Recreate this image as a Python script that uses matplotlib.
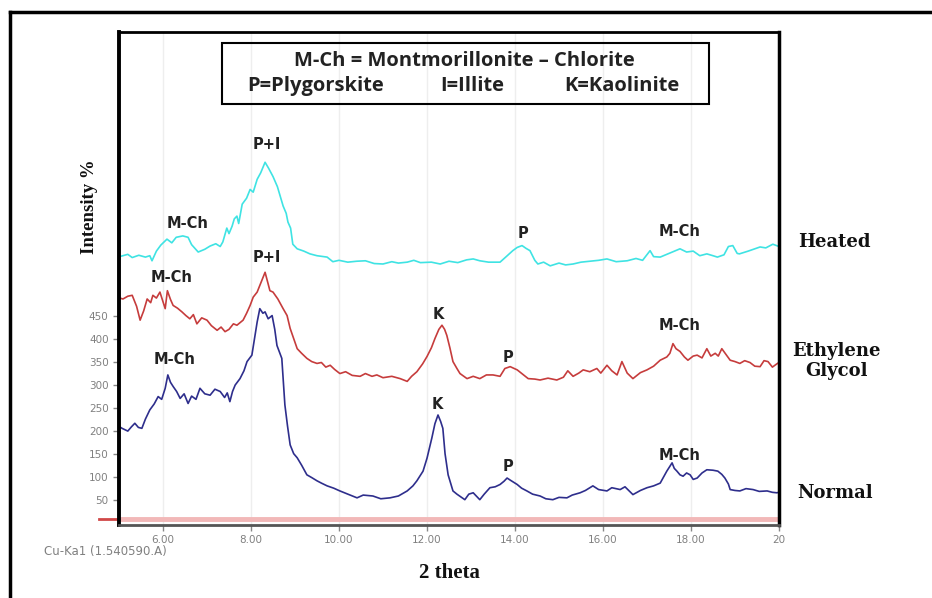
import matplotlib
matplotlib.use("Agg")
import matplotlib.pyplot as plt
from matplotlib.patches import Rectangle
from matplotlib.lines import Line2D

# ---- data (2 theta, intensity as plotted, curves stacked) ----
heated_x = [5.05, 5.2, 5.3, 5.45, 5.6, 5.7, 5.75, 5.85, 5.95, 6.09, 6.2, 6.3, 6.45, 6.57, 6.65, 6.8,
            6.95, 7.07, 7.2, 7.3, 7.36, 7.45, 7.5, 7.57, 7.62, 7.68, 7.72, 7.8, 7.9, 7.98, 8.05, 8.14,
            8.22, 8.32, 8.4, 8.5, 8.6, 8.73, 8.8, 8.84, 8.9, 8.95, 9.05, 9.2, 9.34, 9.5, 9.73, 9.86,
            10.0, 10.2, 10.4, 10.6, 10.8, 11.0, 11.2, 11.35, 11.55, 11.7, 11.85, 12.1, 12.3, 12.5,
            12.7, 12.9, 13.05, 13.2, 13.4, 13.66, 13.8, 13.95, 14.05, 14.16, 14.25, 14.34, 14.45,
            14.52, 14.65, 14.8, 15.0, 15.15, 15.32, 15.5, 15.7, 15.9, 16.09, 16.3, 16.55, 16.75, 16.9,
            17.07, 17.15, 17.3, 17.5, 17.75, 17.9, 18.05, 18.2, 18.36, 18.5, 18.6, 18.75, 18.85,
            18.95, 19.05, 19.1, 19.3, 19.45, 19.57, 19.7, 19.86, 20.0]
heated_y = [579, 583, 576, 581, 577, 580, 569, 590, 603, 616, 608, 620, 623, 620, 604, 588,
            594, 601, 606, 600, 610, 640, 628, 644, 660, 666, 650, 692, 705, 724, 718, 746,
            760, 783, 770, 752, 730, 688, 672, 653, 640, 605, 595, 590, 584, 580, 577, 567,
            570, 566, 568, 569, 563, 562, 567, 564, 566, 570, 565, 566, 562, 568,
            565, 571, 573, 569, 566, 566, 578, 591, 598, 602, 596, 591, 570,
            562, 566, 558, 564, 560, 562, 566, 568, 570, 573, 567, 569, 574, 570,
            591, 578, 577, 585, 595, 588, 590, 580, 584, 580, 577, 582, 600,
            602, 585, 584, 590, 595, 599, 597, 605, 600]

glycol_x = [5.02, 5.09, 5.2, 5.3, 5.4, 5.48, 5.56, 5.64, 5.72, 5.77, 5.85, 5.93, 6.0, 6.05, 6.1,
            6.17, 6.23, 6.33, 6.43, 6.52, 6.61, 6.69, 6.77, 6.88, 7.0, 7.1, 7.23, 7.32, 7.41, 7.5,
            7.6, 7.68, 7.82, 7.9, 7.98, 8.05, 8.14, 8.22, 8.32, 8.38, 8.43, 8.5, 8.61, 8.73, 8.82,
            8.89, 8.97, 9.05, 9.15, 9.27, 9.38, 9.5, 9.6, 9.7, 9.8, 9.9, 10.02, 10.15, 10.3, 10.48,
            10.6, 10.75, 10.86, 11.0, 11.2, 11.39, 11.55, 11.65, 11.77, 11.9, 12.0, 12.1, 12.18,
            12.27, 12.34, 12.4, 12.45, 12.52, 12.59, 12.68, 12.75, 12.91, 13.05, 13.2, 13.35, 13.5,
            13.66, 13.77, 13.89, 14.05, 14.18, 14.3, 14.45, 14.57, 14.75, 14.95, 15.1, 15.2, 15.32,
            15.45, 15.55, 15.7, 15.86, 15.95, 16.09, 16.2, 16.32, 16.43, 16.55, 16.68, 16.85, 17.0,
            17.15, 17.3, 17.45, 17.52, 17.59, 17.66, 17.75, 17.85, 17.93, 18.05, 18.14, 18.25,
            18.36, 18.45, 18.55, 18.62, 18.7, 18.8, 18.89, 19.0, 19.11, 19.22, 19.34, 19.45, 19.57,
            19.66, 19.75, 19.85, 19.95, 20.0]
glycol_y = [488, 486, 492, 494, 470, 440, 460, 486, 478, 494, 488, 501, 480, 465, 504,
            485, 472, 466, 458, 450, 443, 452, 432, 445, 440, 428, 418, 425, 415, 420,
            432, 429, 440, 455, 472, 490, 501, 520, 544, 522, 504, 501, 486, 465, 450,
            422, 400, 378, 368, 357, 350, 346, 348, 338, 342, 333, 324, 328, 320, 318,
            324, 318, 321, 315, 318, 313, 307, 318, 328, 345, 361, 380, 400,
            420, 429, 420, 407, 380, 350, 335, 324, 313, 318, 313, 321, 321,
            318, 335, 339, 332, 322, 313, 312, 310, 314, 310, 316, 330, 318,
            325, 332, 328, 335, 325, 342, 330, 321, 350, 325, 313, 326, 332,
            340, 353, 360, 368, 389, 378, 372, 360, 353, 362, 364, 358,
            378, 362, 368, 362, 378, 365, 353, 350, 346, 352, 348, 340, 339,
            352, 350, 338, 345, 348]

normal_x = [5.02, 5.07, 5.2, 5.28, 5.36, 5.44, 5.52, 5.6, 5.7, 5.8, 5.89, 5.97, 6.05, 6.11, 6.17,
            6.23, 6.31, 6.39, 6.48, 6.57, 6.65, 6.75, 6.84, 6.95, 7.07, 7.18, 7.3, 7.4, 7.46, 7.52,
            7.58, 7.64, 7.75, 7.84, 7.91, 8.02, 8.08, 8.14, 8.2, 8.27, 8.32, 8.39, 8.48, 8.54, 8.59,
            8.7, 8.77, 8.83, 8.89, 8.97, 9.05, 9.15, 9.27, 9.38, 9.5, 9.6, 9.73, 9.88, 10.02, 10.2,
            10.41, 10.55, 10.77, 10.95, 11.16, 11.35, 11.55, 11.68, 11.77, 11.91, 12.0, 12.11, 12.18,
            12.25, 12.31, 12.36, 12.41, 12.48, 12.59, 12.68, 12.86, 12.95, 13.05, 13.12, 13.2, 13.3,
            13.43, 13.55, 13.66, 13.75, 13.82, 13.9, 14.05, 14.15, 14.27, 14.4, 14.57, 14.7, 14.86,
            15.0, 15.18, 15.3, 15.48, 15.6, 15.77, 15.9, 16.09, 16.2, 16.39, 16.5, 16.68, 16.85,
            17.0, 17.15, 17.3, 17.38, 17.45, 17.57, 17.62, 17.68, 17.75, 17.82, 17.9, 17.98, 18.05,
            18.14, 18.25, 18.36, 18.5, 18.61, 18.7, 18.77, 18.85, 18.89, 19.0, 19.11, 19.25, 19.41,
            19.55, 19.73, 19.85, 19.95, 20.0]
normal_y = [208, 205, 199, 208, 216, 207, 205, 225, 245, 258, 274, 268, 292, 321, 305,
            296, 285, 270, 280, 259, 275, 268, 292, 280, 277, 290, 285, 272, 282, 263,
            285, 299, 313, 330, 350, 364, 400, 436, 465, 455, 458, 443, 450, 420, 385,
            357, 256, 210, 169, 150, 141, 125, 104, 98, 91, 86, 80, 75, 69, 62,
            54, 60, 58, 52, 54, 58, 69, 80, 91, 112, 140, 184, 215,
            234, 220, 205, 150, 104, 69, 62, 50, 62, 65, 58, 50, 62,
            76, 78, 83, 90, 97, 92, 83, 75, 69, 62, 58, 52, 50,
            55, 54, 60, 65, 70, 80, 72, 69, 76, 72, 78, 61, 70,
            76, 80, 86, 100, 112, 130, 118, 112, 104, 101, 108, 104, 94,
            97, 108, 115, 114, 112, 105, 97, 84, 72, 70, 69, 74, 72,
            68, 69, 66, 65, 66]

x_ticks = [6, 8, 10, 12, 14, 16, 18, 20]
x_tick_labels = ['6.00', '8.00', '10.00', '12.00', '14.00', '16.00', '18.00', '20']
y_ticks = [50, 100, 150, 200, 250, 300, 350, 400, 450]

# peak labels: (text, 2theta, height)
peak_labels = [
    ('M-Ch', 6.55, 650), ('P+I', 8.36, 822), ('P', 14.18, 628), ('M-Ch', 17.75, 632),
    ('M-Ch', 6.2, 532), ('P+I', 8.36, 576), ('K', 12.25, 452), ('P', 13.84, 359), ('M-Ch', 17.75, 428),
    ('M-Ch', 6.27, 355), ('K', 12.23, 257), ('P', 13.84, 123), ('M-Ch', 17.75, 145),
]

W, H = 932, 598
fig = plt.figure(figsize=(W / 100, H / 100), dpi=100)


def fx(px):
    return px / W


def fy(py):
    return 1 - py / H


ax = fig.add_axes([fx(119), fy(525), fx(779) - fx(119), fy(32) - fy(525)])
ax.set_xlim(5, 20)
ax.set_ylim(-5, 1066)

ax.grid(axis='x', color='#eeeeee', lw=1)
ax.set_axisbelow(True)

# pink reference band along the bottom
ax.axhline(9, color='#f2b8b8', lw=3.5, zorder=1)
ax.plot([-0.03, 0], [9, 9], color='#d04848', lw=2, clip_on=False,
        transform=ax.get_yaxis_transform())

ax.plot(heated_x, heated_y, color='#3fe3e3', lw=1.2)
ax.plot(glycol_x, glycol_y, color='#c63c3c', lw=1.2)
ax.plot(normal_x, normal_y, color='#2e2e8c', lw=1.2)

for txt, x, y in peak_labels:
    ax.text(x, y, txt, ha='center', va='center', fontsize=10.5, fontweight='bold',
            color='#222222', family='DejaVu Sans')

ax.set_xticks(x_ticks)
ax.set_xticklabels(x_tick_labels)
ax.set_yticks(y_ticks)
ax.tick_params(axis='both', colors='#888888', labelsize=7.5, length=4, width=1)
for lab in ax.get_xticklabels() + ax.get_yticklabels():
    lab.set_color('#808080')

ax.spines['left'].set_linewidth(2.8)
ax.spines['right'].set_linewidth(2.5)
ax.spines['top'].set_linewidth(2)
ax.spines['bottom'].set_linewidth(2)
ax.spines['bottom'].set_color('#555555')

# outer frame (left and top edge)
fig.add_artist(Line2D([fx(10), fx(10)], [0, fy(12)], color='black', lw=2.5))
fig.add_artist(Line2D([fx(10), 1], [fy(12), fy(12)], color='black', lw=2.5))

# key box
fig.add_artist(Rectangle((fx(222), fy(104)), fx(709) - fx(222), fy(43) - fy(104),
                         fill=False, edgecolor='black', lw=1.5))
key_font = dict(family='Open Sans', fontweight='bold', fontsize=14.5, color='#222222',
                ha='center', va='center')
fig.text(fx(464), fy(61), 'M-Ch = Montmorillonite – Chlorite', **key_font)
fig.text(fx(316), fy(86), 'P=Plygorskite', **key_font)
fig.text(fx(472), fy(86), 'I=Illite', **key_font)
fig.text(fx(622), fy(86), 'K=Kaolinite', **key_font)

serif = dict(family='Liberation Serif', fontweight='bold', color='#111111')
side = dict(family='DejaVu Serif', fontweight='bold', color='#111111')
fig.text(fx(90), fy(207), 'Intensity %', rotation=90, ha='center', va='center',
         fontsize=13.5, **serif)
fig.text(fx(449), fy(573), '2 theta', ha='center', va='center', fontsize=15, **serif)
fig.text(fx(834), fy(242), 'Heated', ha='center', va='center', fontsize=13, **side)
fig.text(fx(836), fy(361), 'Ethylene\nGlycol', ha='center', va='center', fontsize=13,
         linespacing=1.15, **side)
fig.text(fx(835), fy(493), 'Normal', ha='center', va='center', fontsize=13, **side)

fig.text(fx(44), fy(552), 'Cu-Ka1 (1.540590.A)', ha='left', va='center', fontsize=8.5,
         color='#808080', family='DejaVu Sans')

fig.savefig('out.png', dpi=100)
